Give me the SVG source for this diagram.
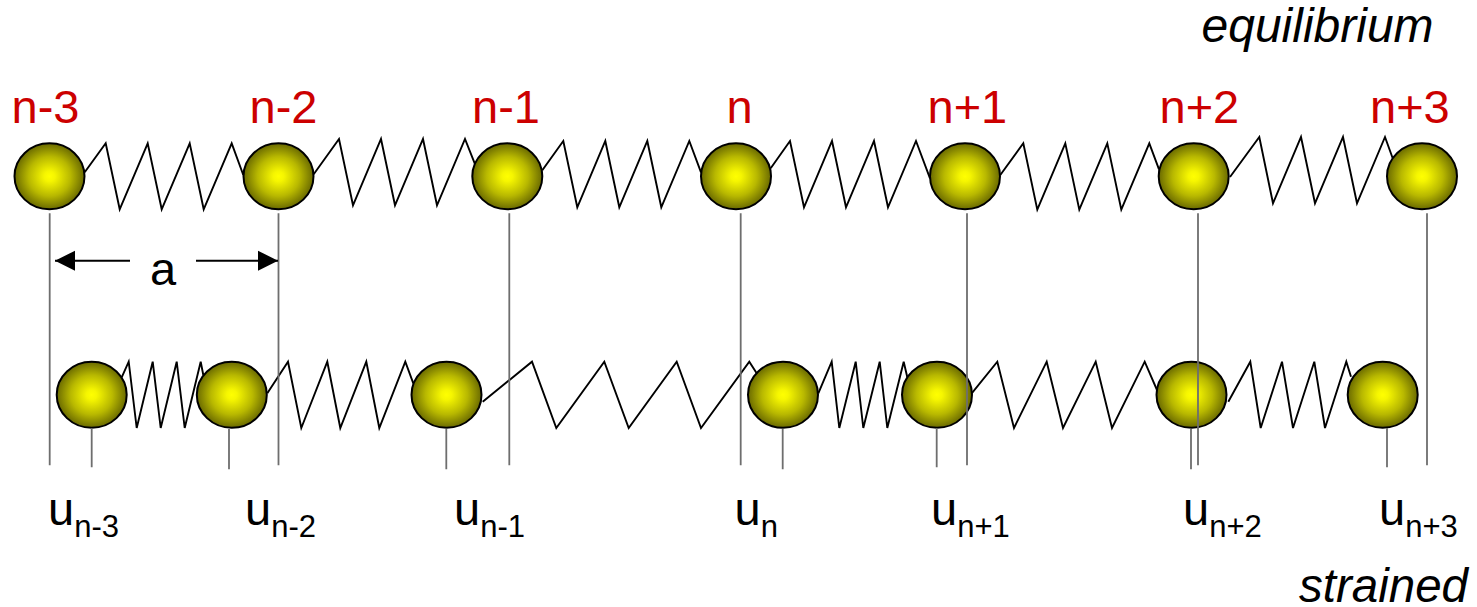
<svg xmlns="http://www.w3.org/2000/svg" width="1477" height="607" viewBox="0 0 1477 607">
<style>
text{font-family:"Liberation Sans",Arial,sans-serif;font-size:47px;fill:#000}
.red{fill:#cc0000}
.eq{font-style:italic;font-size:48px}
.st{font-style:italic;font-size:47.5px}
.sub{font-size:31px}
.spring{fill:none;stroke:#000;stroke-width:1.9;stroke-linejoin:miter}
.guide{stroke:#6e6e6e;stroke-width:1.8;fill:none}
.ball{fill:url(#g);stroke:#000;stroke-width:2}
.arr{stroke:#000;stroke-width:2;fill:none}
</style>
<defs>
<radialGradient id="g" cx="0.5" cy="0.5" r="0.5">
<stop offset="0" stop-color="#ffff00"/>
<stop offset="0.15" stop-color="#f6f600"/>
<stop offset="0.6" stop-color="#b8b800"/>
<stop offset="1" stop-color="#6a6a00"/>
</radialGradient>
<marker id="ah" markerUnits="userSpaceOnUse" markerWidth="21" markerHeight="21" refX="20.5" refY="10.5" orient="auto-start-reverse">
<path d="M0.5 0.5L20.5 10.5L0.5 20.5Z" fill="#000"/>
</marker>
</defs>
<rect width="1477" height="607" fill="#fff"/>
<g id="connectors">
<polyline class="spring" points="84.7,172.3 105.7,143.3 119.7,209.3 147.7,143.3 161.7,209.3 189.7,143.3 203.7,209.3 231.7,143.3 243.3,175"/>
<polyline class="spring" points="313.7,174.3 339,139 353,205.3 381,139 395,205.3 423,139 437,205.3 465,139 474.7,163.3"/>
<polyline class="spring" points="542.3,170.3 563.3,141 577.3,207.3 605.3,141 619.3,207.3 647.3,141 661.3,207.3 689.3,141 701,172.3"/>
<polyline class="spring" points="770.7,168.3 790,141 804,207.3 832,141 846,207.3 874,141 888,207.3 916,141 930,178.3"/>
<polyline class="spring" points="1000.3,175 1023.3,143.3 1037.3,209.7 1065.3,143.3 1079.3,209.7 1107.3,143.3 1121.3,209.7 1149.3,143.3 1159,169.3"/>
<polyline class="spring" points="1230,177 1259.3,137 1273,203.3 1301,137 1315,203.3 1343,137 1357,203.3 1385,137 1392.7,158.3"/>
<polyline class="spring" points="121.7,377.3 128.7,361.7 136.7,428 152.7,361.7 160.7,428 176.7,361.7 184.7,428 200.7,361.7 203.3,375"/>
<polyline class="spring" points="267.3,393.3 288,361.7 301.3,428 327.3,361.7 340.3,428 366.3,361.7 379.3,428 405.3,361.7 413.3,383.3"/>
<polyline class="spring" points="482.7,401.7 532,361.7 556.3,428 604.3,361.7 628.7,428 676.7,361.7 701,428 749.3,361.7 756.7,373.3"/>
<polyline class="spring" points="818.3,393.3 831.7,361.7 839.3,428 855.7,361.7 863.3,428 879.7,361.7 887.3,428 903.7,361.7 907.3,377.3"/>
<polyline class="spring" points="971.7,393.3 997.3,361.7 1014,428 1046.7,361.7 1063,428 1095.7,361.7 1112,428 1144.7,361.7 1157,390"/>
<polyline class="spring" points="1228.3,401.7 1250.3,361.7 1260.7,428 1282,361.7 1293,428 1314.3,361.7 1325,428 1346.3,361.7 1351,376.7"/>
</g>
<g id="eq-n-3"><ellipse class="ball" cx="49.5" cy="176.3" rx="35" ry="33"/><text class="red" x="11.5" y="123">n-3</text></g>
<g id="eq-n-2"><ellipse class="ball" cx="278.5" cy="176.3" rx="35" ry="33"/><text class="red" x="249.5" y="123">n-2</text></g>
<g id="eq-n-1"><ellipse class="ball" cx="507.3" cy="176.3" rx="35" ry="33"/><text class="red" x="472" y="123">n-1</text></g>
<g id="eq-n"><ellipse class="ball" cx="736" cy="176.3" rx="35" ry="33"/><text class="red" x="726.5" y="123">n</text></g>
<g id="eq-n+1"><ellipse class="ball" cx="965" cy="176.3" rx="35" ry="33"/><text class="red" x="927.5" y="123">n+1</text></g>
<g id="eq-n+2"><ellipse class="ball" cx="1193.7" cy="176.3" rx="35" ry="33"/><text class="red" x="1159.5" y="123">n+2</text></g>
<g id="eq-n+3"><ellipse class="ball" cx="1422" cy="176.3" rx="35" ry="33"/><text class="red" x="1370" y="123">n+3</text></g>
<g id="st-n-3"><ellipse class="ball" cx="91.7" cy="394.8" rx="35" ry="33"/><text x="48" y="525">u<tspan class="sub" dy="11.7">n-3</tspan></text></g>
<g id="st-n-2"><ellipse class="ball" cx="231.8" cy="394.8" rx="35" ry="33"/><text x="245" y="525">u<tspan class="sub" dy="11.7">n-2</tspan></text></g>
<g id="st-n-1"><ellipse class="ball" cx="446.5" cy="394.8" rx="35" ry="33"/><text x="454" y="525">u<tspan class="sub" dy="11.7">n-1</tspan></text></g>
<g id="st-n"><ellipse class="ball" cx="783" cy="394.8" rx="35" ry="33"/><text x="734.5" y="525">u<tspan class="sub" dy="11.7">n</tspan></text></g>
<g id="st-n+1"><ellipse class="ball" cx="937" cy="394.8" rx="35" ry="33"/><text x="931" y="525">u<tspan class="sub" dy="11.7">n+1</tspan></text></g>
<g id="st-n+2"><ellipse class="ball" cx="1191.5" cy="394.8" rx="35" ry="33"/><text x="1183" y="525">u<tspan class="sub" dy="11.7">n+2</tspan></text></g>
<g id="st-n+3"><ellipse class="ball" cx="1382.7" cy="394.8" rx="35" ry="33"/><text x="1379" y="525">u<tspan class="sub" dy="11.7">n+3</tspan></text></g>
<g id="guides">
<path class="guide" d="M49.7 213.3V465.3M278.5 213.3V465.3M509.3 213.3V465.3M740.7 213.3V465.3M967 213.3V465.3M1198 213.3V465.3M1427 213.3V465.3"/>
<path class="guide" d="M91.7 428V467.3M229 429V469.3M446.3 429V469.3M782.7 429V469.3M936.7 428V467.3M1191 429V469.3M1387 428V467.3"/>
</g>
<g id="spacing">
<line class="arr" x1="130" y1="260.7" x2="55" y2="260.7" marker-end="url(#ah)"/>
<line class="arr" x1="196" y1="260.7" x2="278" y2="260.7" marker-end="url(#ah)"/>
<text x="150" y="285">a</text>
</g>
<text class="eq" x="1201.5" y="42">equilibrium</text>
<text class="st" x="1299" y="602">strained</text>
</svg>
